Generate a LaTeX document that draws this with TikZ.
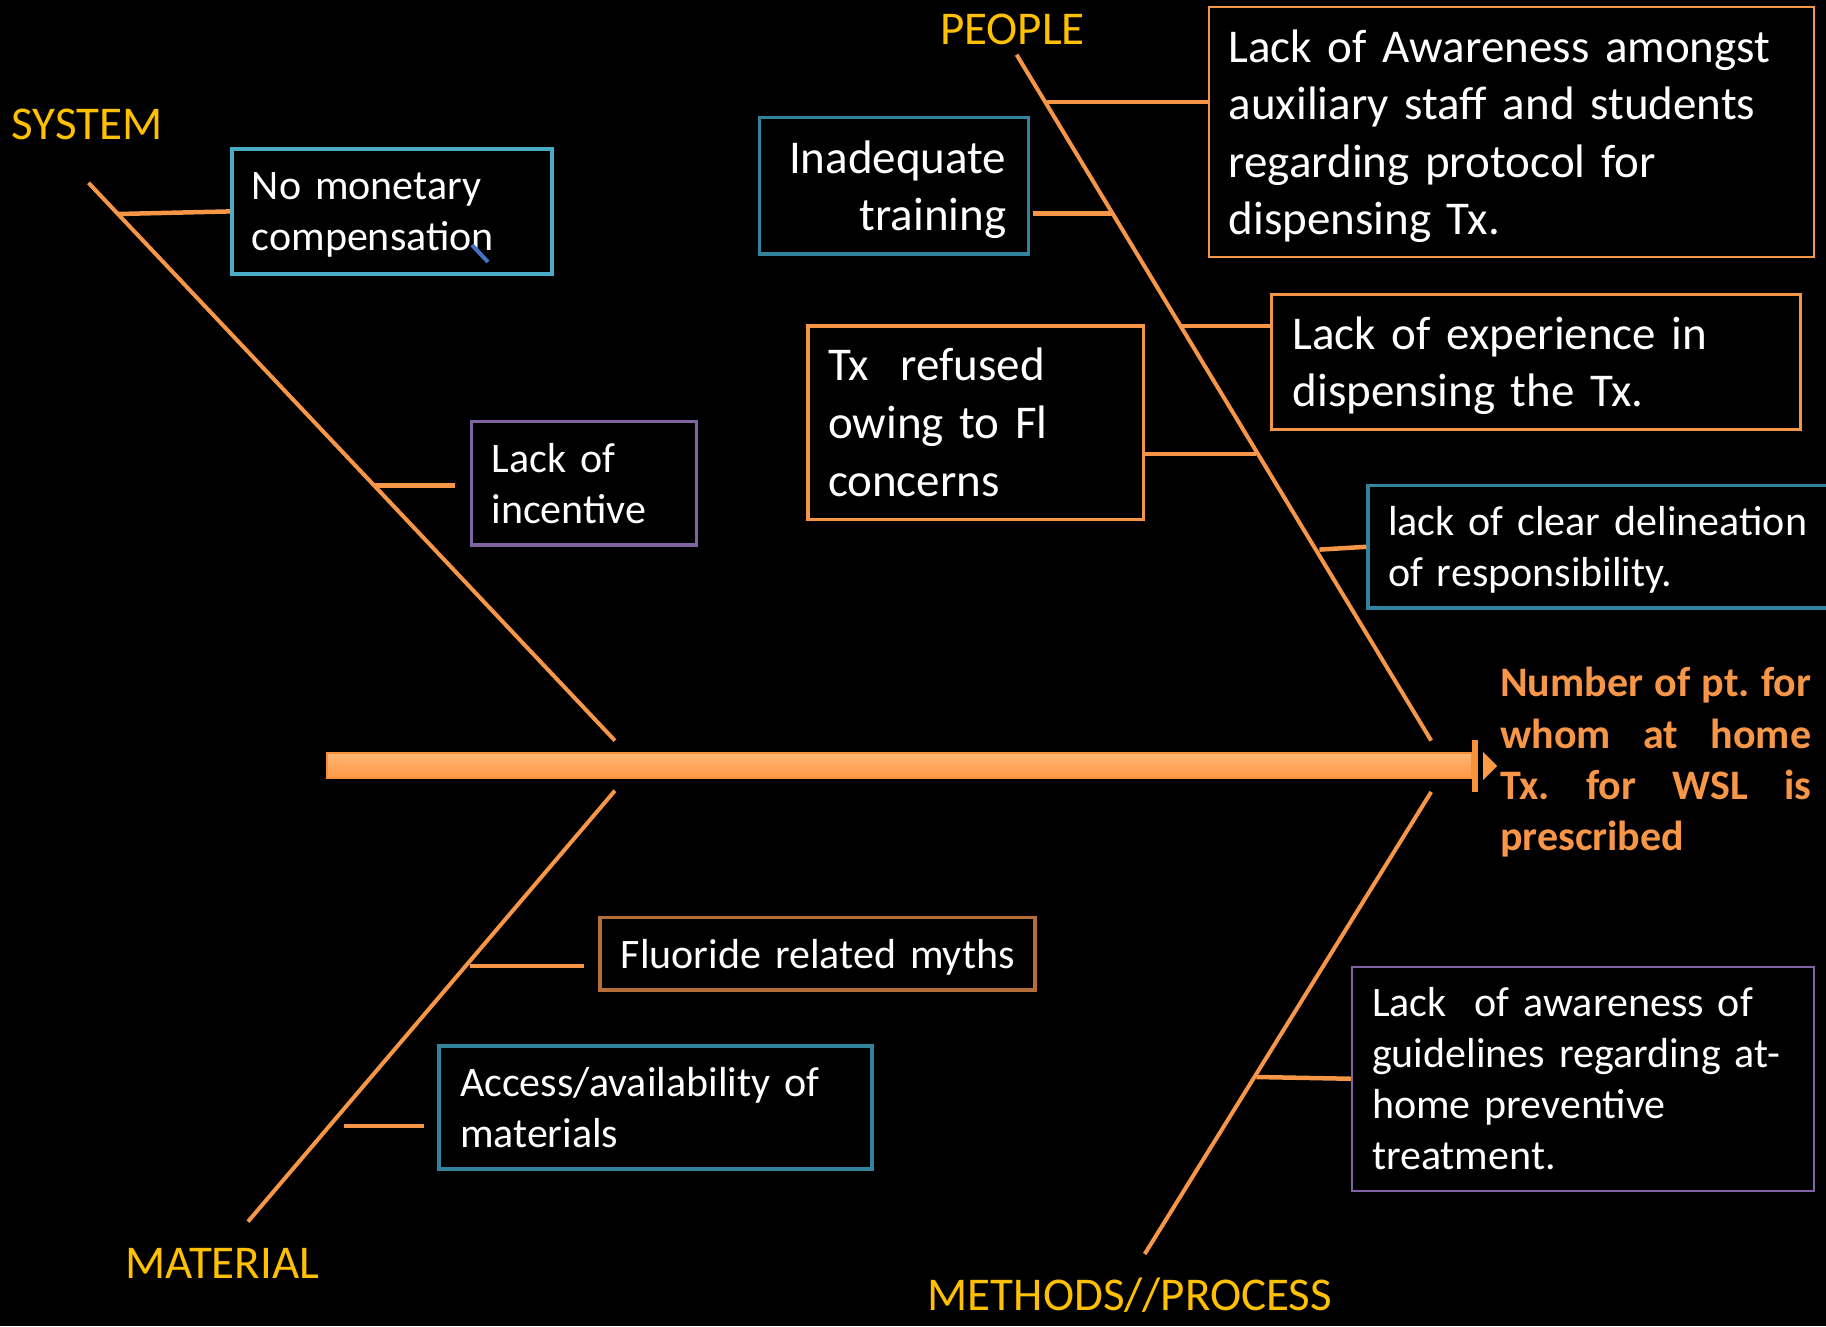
\documentclass[tikz,border=0pt]{standalone}
\usepackage{fontspec}
\setmainfont{Carlito}
\usetikzlibrary{calc}
\definecolor{bone}{HTML}{F79646}
\definecolor{lbl}{HTML}{FFC000}
\definecolor{lblue}{HTML}{4BACC6}
\definecolor{teal}{HTML}{31849B}
\definecolor{purp}{HTML}{8064A2}
\definecolor{brwn}{HTML}{B46E3A}
\definecolor{markblue}{HTML}{4472C4}
\definecolor{spinetop}{HTML}{FFB476}
\definecolor{spinebot}{HTML}{FF9A45}
\definecolor{spineedge}{HTML}{F7923A}
\frenchspacing
\begin{document}
\begin{tikzpicture}[x=1pt,y=-1pt,
  bonel/.style={draw=bone,line width=4pt},
  twig/.style={draw=bone,line width=4.5pt},
  cat/.style={text=lbl,inner sep=0pt,font=\fontsize{47}{56}\selectfont},
  cbox/.style={draw,line width=3.5pt,fill=black,text=white,inner ysep=0pt,inner xsep=20pt,
     align=left,font=\fontsize{42}{51}\selectfont},
  bbox/.style={cbox,font=\fontsize{47}{57.5}\selectfont}]
\fill[black] (0,0) rectangle (1826,1326);
\useasboundingbox (0,0) rectangle (1826,1326);

% spine
\shade[top color=spinetop,bottom color=spinebot,draw=spineedge,line width=2.5pt]
  (327,753) rectangle (1472,778);
\fill[spineedge] (1472,740) rectangle (1478,792);
\fill[spinebot] (1483,752) -- (1497,766) -- (1483,780) -- cycle;

% bones
\coordinate (sysA) at (88.5,182.8);   \coordinate (sysB) at (614.9,740.6);
\coordinate (matA) at (614.9,790.7);  \coordinate (matB) at (248,1221.6);
\coordinate (peoA) at (1016.6,54.7);  \coordinate (peoB) at (1431.2,740.6);
\coordinate (metA) at (1431.2,791.9); \coordinate (metB) at (1144.7,1254);
\draw[bonel] (sysA) -- (sysB);
\draw[bonel] (matA) -- (matB);
\draw[bonel] (peoA) -- (peoB);
\draw[bonel] (metA) -- (metB);

% category labels
\node[cat] (system) at (87.3,124.6) {SYSTEM};
\node[cat] (people) at (1012.5,29) {PEOPLE};
\node[cat] (material) at (222.3,1263.5) {MATERIAL};
\node[cat] (methods) at (1130,1295) {METHODS//PROCESS};

% boxes
\node[cbox,draw=lblue,minimum width=320,minimum height=125,text width=280] (nomon) at (391.9,211.4)
  {No monetary\\\smash{compensation}};
\node[cbox,draw=purp,minimum width=225,minimum height=123.5,text width=185] (incent) at (584,483.3)
  {Lack of\\incentive};
\node[cbox,draw=brwn,minimum width=435.3,minimum height=72.2,text width=393,inner xsep=21pt,text depth=0pt] (myth) at (817.4,953.7)
  {\mbox{Fluoride related myths}};
\node[cbox,draw=teal,minimum width=433.2,minimum height=123.3,text width=391,inner xsep=21pt] (access) at (655.6,1107.4)
  {Access/availability of\\materials};
\node[bbox,draw=teal,align=right,minimum width=269,minimum height=136.3,text width=225,inner xsep=22pt] (inadeq) at (893.8,185.75)
  {Inadequate\\\smash{training}};
\node[bbox,draw=bone,line width=2pt,minimum width=605.6,minimum height=250.4,text width=565.6] (aware) at (1511.5,132.2)
  {Lack of Awareness amongst\\auxiliary staff and students\\regarding protocol for\\\smash{dispensing Tx.}};
\node[bbox,draw=bone,minimum width=335.5,minimum height=193.4,text width=295.5,font=\fontsize{47}{58}\selectfont] (refused) at (975.75,422.7)
  {Tx\ \ refused\\owing to Fl\\concerns};
\node[bbox,draw=bone,minimum width=528.8,minimum height=135.1,text width=486.8,inner xsep=21pt,font=\fontsize{47}{57}\selectfont] (exper) at (1536,362.1)
  {Lack of experience in\\\smash{dispensing the Tx.}};
\node[cbox,draw=teal,minimum width=500,minimum height=122.4,text width=460] (delin) at (1618,546.8)
  {lack of clear delineation\\\smash{of responsibility.}};
\node[cbox,draw=purp,line width=2pt,minimum width=462,minimum height=224.5,text width=422,font=\fontsize{42}{50.8}\selectfont] (guide) at (1583,1078.75)
  {Lack\ \ of awareness of\\guidelines regarding at-\\home preventive\\treatment.};

% effect
\node[anchor=west,inner sep=0pt,text=bone,align=left,font=\fontsize{42}{51.2}\selectfont\bfseries] (effect) at (1500,759)
  {\makebox[311pt][s]{Number of pt. for}\\\makebox[311pt][s]{whom at home}\\\makebox[311pt][s]{Tx. for WSL is}\\\smash{prescribed}};

% twigs
\coordinate (t1) at (118,214);
\draw[twig] (t1) -- (nomon.west);
\coordinate (t2) at (375,485.6); \coordinate (t2e) at (455.3,485.6);
\draw[twig] (t2) -- (t2e);
\coordinate (t3) at (470,966); \coordinate (t3e) at (584,966);
\draw[twig] (t3) -- (t3e);
\coordinate (t4) at (344,1126); \coordinate (t4e) at (424,1126);
\draw[twig] (t4) -- (t4e);
\coordinate (t5) at (1112,213.5);
\draw[twig] (inadeq.east |- t5) ++(3,0) -- (t5);
\coordinate (t6) at (1047,102);
\draw[twig] (t6) -- (aware.west |- t6);
\coordinate (t7) at (1256,454);
\draw[twig] (refused.east |- t7) -- (t7);
\coordinate (t8) at (1179,326);
\draw[twig] (t8) -- (exper.west |- t8);
\coordinate (t9) at (1319.4,549.6);
\draw[twig] (t9) -- (delin.west);
\coordinate (t10) at (1256.5,1077);
\draw[twig] (t10) -- (guide.west);

% small blue mark
\coordinate (m1) at (472,245); \coordinate (m2) at (488,262);
\draw[markblue,line width=4pt] (m1) -- (m2);
\end{tikzpicture}
\end{document}
